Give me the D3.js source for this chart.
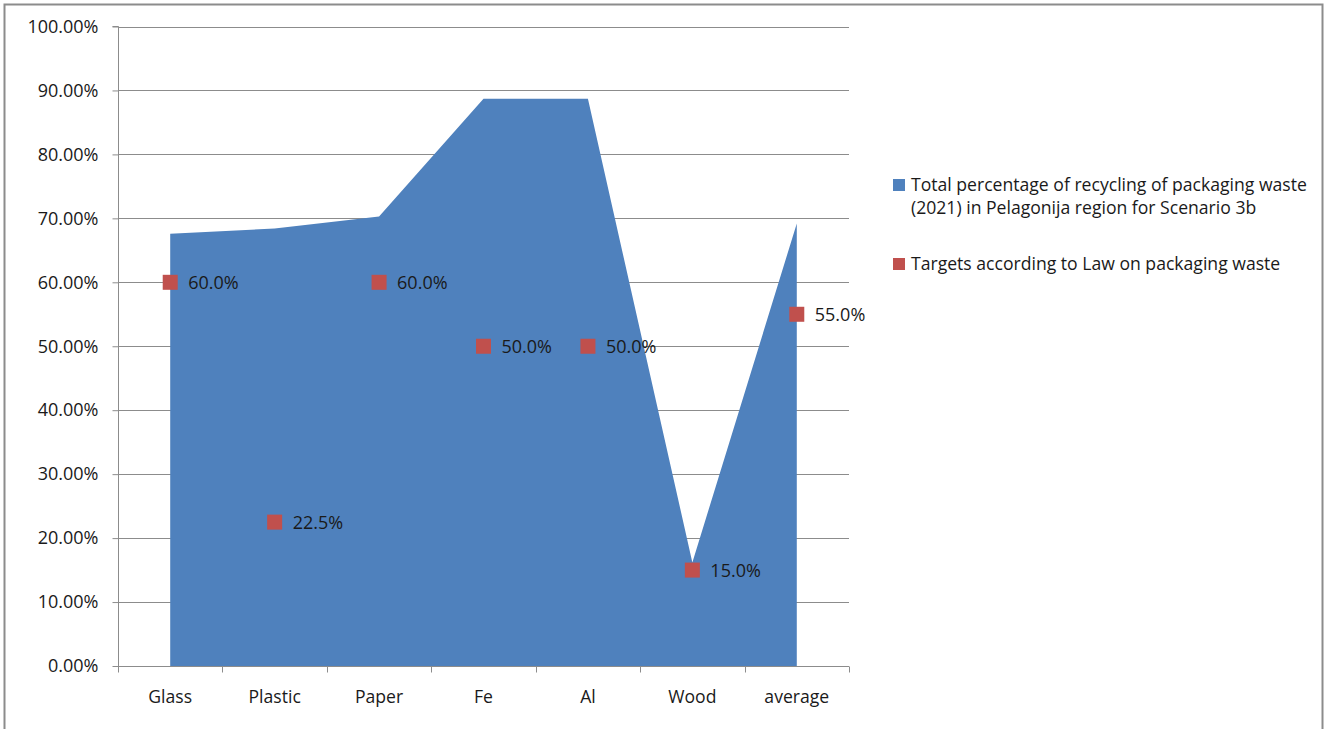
<!DOCTYPE html>
<html>
<head>
<meta charset="utf-8">
<script src="https://cdn.jsdelivr.net/npm/d3@7"></script>
<style>
  html, body { margin: 0; padding: 0; background: #fff; }
  svg { display: block; }
  text { font-family: "Open Sans", "Noto Sans", sans-serif; fill: #1a1a1a; }
</style>
</head>
<body>
<svg id="chart" width="1330" height="729"></svg>
<script>
const categories = ["Glass", "Plastic", "Paper", "Fe", "Al", "Wood", "average"];
const recyclingValues = [0.676, 0.684, 0.703, 0.887, 0.887, 0.162, 0.692];
const targetValues = [0.60, 0.225, 0.60, 0.50, 0.50, 0.15, 0.55];
const yTicks = [0, 0.1, 0.2, 0.3, 0.4, 0.5, 0.6, 0.7, 0.8, 0.9, 1.0];
const seriesNames = [
  ["Total percentage of recycling of packaging waste", "(2021) in Pelagonija region for Scenario 3b"],
  ["Targets according to Law on packaging waste"]
];
const colors = ["#4F81BD", "#C0504D"];

(function () {
const svg = d3.select("#chart");
const pLeft = 118, pRight = 849, pTop = 26.5, pBottom = 666;
const numFont = "18px", txtFont = "17.6px";

// outer frame
svg.append("rect").attr("x", 4.5).attr("y", 4.5).attr("width", 1318).attr("height", 740)
  .attr("fill", "none").attr("stroke", "#8c8c8c").attr("stroke-width", 2);

const x = d3.scaleBand().domain(categories).range([pLeft, pRight]).padding(0);
const y = d3.scaleLinear().domain([0, 1]).range([pBottom, pTop]);
const cx = d => x(d) + x.bandwidth() / 2;

// gridlines
svg.append("g").selectAll("line").data(yTicks.slice(1)).join("line")
  .attr("x1", pLeft).attr("x2", pRight)
  .attr("y1", d => Math.round(y(d)) + 0.5).attr("y2", d => Math.round(y(d)) + 0.5)
  .attr("stroke", "#8c8c8c").attr("stroke-width", 1);

// area
const area = d3.area()
  .x((d, i) => cx(categories[i]))
  .y0(y(0)).y1(d => y(d));
svg.append("path").datum(recyclingValues).attr("d", area).attr("fill", colors[0]);

// y axis
const yAxis = d3.axisLeft(y).tickValues(yTicks).tickSize(6).tickPadding(14)
  .tickFormat(d => (d * 100).toFixed(2) + "%");
const gy = svg.append("g").attr("transform", `translate(${pLeft + 0.5},0)`).call(yAxis);
gy.select(".domain").attr("stroke", "#8c8c8c").attr("d", `M-6,${y(1)}H0V${y(0)}`);
gy.selectAll(".tick line").attr("stroke", "#8c8c8c");
gy.selectAll(".tick text").style("font-size", numFont).style("font-family", "Open Sans, sans-serif").attr("fill", "#1a1a1a");

// x axis
const xAxis = d3.axisBottom(x).tickSize(0).tickPadding(24);
const gx = svg.append("g").attr("transform", `translate(0,${pBottom + 0.5})`).call(xAxis);
gx.select(".domain").attr("stroke", "#8c8c8c").attr("d", `M${pLeft},0H${pRight}`);
gx.selectAll(".tick text").style("font-size", txtFont).style("font-family", "Open Sans, sans-serif").attr("fill", "#1a1a1a");
const bounds = categories.map(c => x(c)).concat([pRight]);
gx.append("g").selectAll("line").data(bounds).join("line")
  .attr("x1", d => Math.round(d) + 0.5).attr("x2", d => Math.round(d) + 0.5)
  .attr("y1", 0).attr("y2", 6).attr("stroke", "#8c8c8c");

// target markers
const ms = 15;
svg.append("g").selectAll("rect").data(targetValues).join("rect")
  .attr("x", (d, i) => cx(categories[i]) - ms / 2)
  .attr("y", d => y(d) - ms / 2)
  .attr("width", ms).attr("height", ms)
  .attr("fill", colors[1]);
svg.append("g").selectAll("text").data(targetValues).join("text")
  .attr("x", (d, i) => cx(categories[i]) + 18)
  .attr("y", d => y(d) + 7)
  .style("font-size", numFont)
  .text(d => (d * 100).toFixed(1) + "%");

// legend
const lg = svg.append("g");
const legendY = [185, 264];
seriesNames.forEach((lines, i) => {
  lg.append("rect").attr("x", 893).attr("y", legendY[i] - 6).attr("width", 12).attr("height", 12).attr("fill", colors[i]);
  lines.forEach((t, j) => {
    lg.append("text").attr("x", 911).attr("y", legendY[i] + 6 + j * 23)
      .style("font-size", txtFont).text(t);
  });
});
})();
</script>
</body>
</html>
